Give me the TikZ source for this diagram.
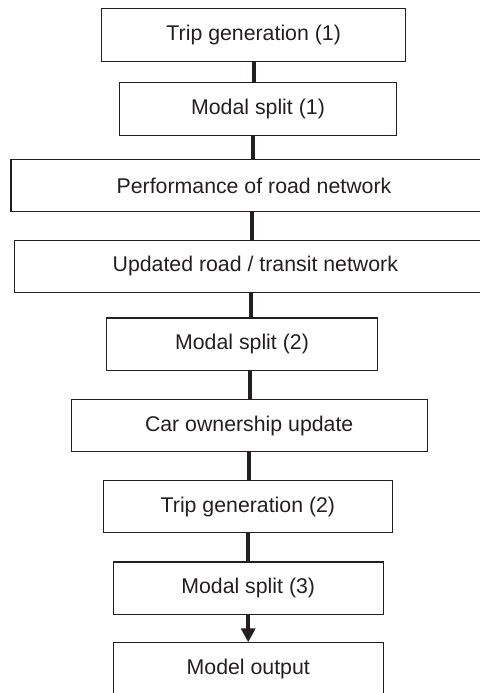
\documentclass[tikz,border=0pt]{standalone}
\usepackage{fontspec}
\setmainfont{Liberation Sans}
\usetikzlibrary{arrows.meta}
\definecolor{ink}{RGB}{35,31,32}
\begin{document}
\begin{tikzpicture}[x=1pt,y=-1pt,
    stage/.style={draw=ink,line width=1.1pt,rectangle,text=ink,minimum height=52.4pt,inner sep=0pt,font=\fontsize{21.3}{25}\selectfont},
    link/.style={draw=ink,line width=4pt}]
          \useasboundingbox (0,0) rectangle (479,693);

          \node[stage,minimum width=304pt] (tg1) at (253.7, 35) {Trip generation (1)};
          \node[stage,minimum width=277.4pt] (ms1) at (258, 108.9) {Modal split (1)};
          \node[stage,minimum width=486pt] (perf) at (254, 185.7) {Performance of road network};
          \node[stage,minimum width=482pt] (upd) at (255.3, 266.3) {Updated road / transit network};
          \node[stage,minimum width=270.6pt] (ms2) at (242, 344.2) {Modal split (2)};
          \node[stage,minimum width=355.7pt] (car) at (249.2, 425.5) {Car ownership update};
          \node[stage,minimum width=289.7pt] (tg2) at (247.9, 506.5) {Trip generation (2)};
          \node[stage,minimum width=270.3pt] (ms3) at (248.2, 588.2) {Modal split (3)};
          \node[stage,minimum width=270pt] (out) at (248.3, 669) {Model output};

          \draw[link] (tg1.south) -- (tg1.south |- ms1.north);
          \draw[link] ([xshift=-5pt]ms1.south) -- ([xshift=-5pt]ms1.south |- perf.north);
          \draw[link] ([xshift=-2pt]perf.south) -- ([xshift=-2pt]perf.south |- upd.north);
          \draw[link] ([xshift=-4pt]upd.south) -- ([xshift=-4pt]upd.south |- ms2.north);
          \draw[link] ([xshift=8pt]ms2.south) -- ([xshift=8pt]ms2.south |- car.north);
          \draw[link] ([xshift=-0.5pt]car.south) -- ([xshift=-0.5pt]car.south |- tg2.north);
          \draw[link] (tg2.south) -- (tg2.south |- ms3.north);
          \draw[link,-{Triangle[length=14pt,width=14pt]}] (ms3.south) -- (ms3.south |- out.north);
        \end{tikzpicture}
\end{document}
